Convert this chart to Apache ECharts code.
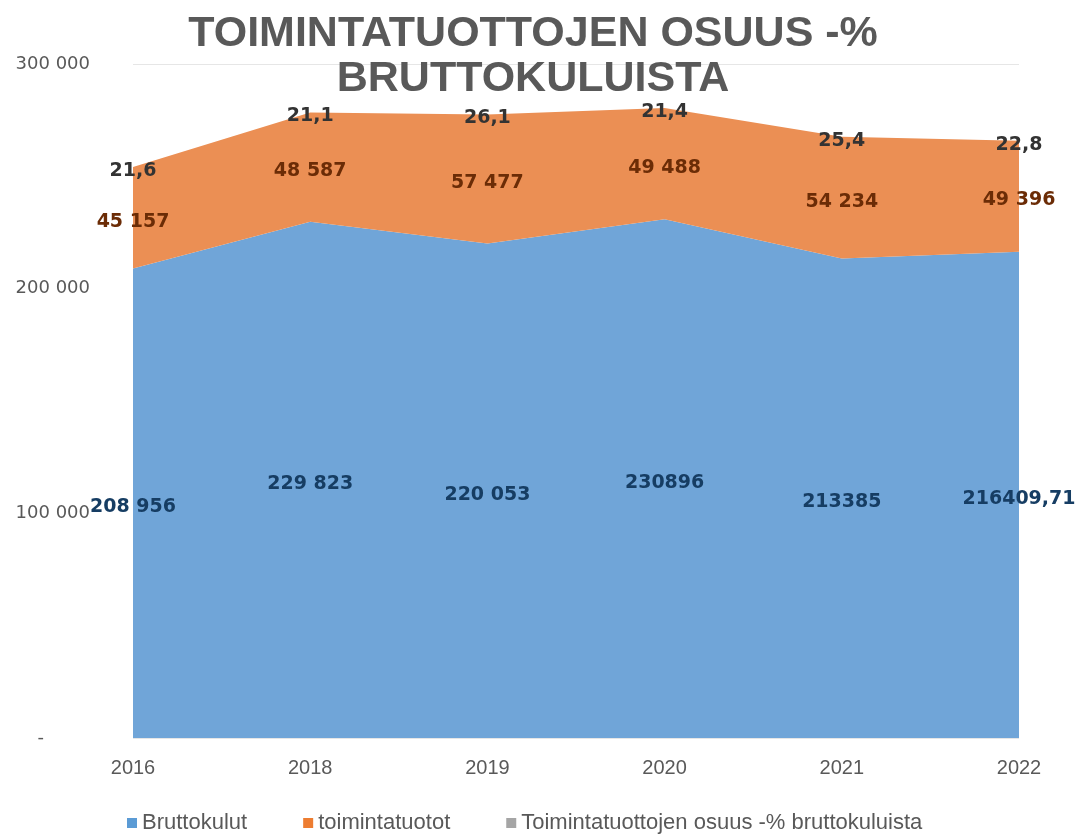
<!DOCTYPE html>
<html lang="fi">
<head>
<meta charset="UTF-8">
<title>Toimintatuottojen osuus</title>
<script src="https://cdn.jsdelivr.net/npm/echarts@6/dist/echarts.min.js"></script>
<style>
  html, body { margin: 0; padding: 0; background: #fff; }
  #chart { width: 1078px; height: 836px; }
</style>
</head>
<body>
<div id="chart"></div>
<script>
// data
const years = ['2016', '2018', '2019', '2020', '2021', '2022'];
const bruttokulut = [208956, 229823, 220053, 230896, 213385, 216409.71];
const bruttoLabels = ['208 956', '229 823', '220 053', '230896', '213385', '216409,71'];
const toimintatuotot = [45157, 48587, 57477, 49488, 54234, 49396];
const osuus = [21.6, 21.1, 26.1, 21.4, 25.4, 22.8];
const yTicks = [0, 100000, 200000, 300000];

const names = ['Bruttokulut', 'toimintatuotot', 'Toimintatuottojen osuus -% bruttokuluista'];
const colors = ['#70a5d8', '#eb8f54', '#a5a5a5'];
const legendColors = ['#5b9bd5', '#ed7d31', '#a5a5a5'];

function fmtSpace(v) {
  return String(Math.round(v)).replace(/\B(?=(\d{3})+(?!\d))/g, ' ');
}

// label anchors: centre of each band, like Excel places area labels
const midBlue = bruttokulut.map(v => v / 2);
const midOrange = bruttokulut.map((v, i) => v + toimintatuotot[i] / 2);
const topGray = bruttokulut.map((v, i) => v + toimintatuotot[i] + osuus[i]);

function areaSeries(idx, data) {
  return {
    name: names[idx],
    type: 'line',
    stack: 'total',
    data: data,
    symbol: 'none',
    lineStyle: { width: 0 },
    areaStyle: { color: colors[idx], opacity: 1 },
    itemStyle: { color: legendColors[idx] },
    silent: true
  };
}

function labelSeries(data, color, fmt) {
  return {
    type: 'scatter',
    data: data,
    symbolSize: 0,
    silent: true,
    z: 5,
    label: {
      show: true,
      position: 'inside',
      offset: [0, 4],
      color: color,
      opacity: 1,
      textBorderWidth: 0,
      fontFamily: 'DejaVu Sans',
      fontWeight: 'bold',
      fontSize: 19,
      formatter: fmt
    }
  };
}

const chart = echarts.init(document.getElementById('chart'));

chart.setOption({
  animation: false,
  title: {
    text: 'TOIMINTATUOTTOJEN OSUUS -%\nBRUTTOKULUISTA',
    left: 528,
    textAlign: 'center',
    top: 7,
    textStyle: {
      fontFamily: 'Liberation Sans',
      fontWeight: 'bold',
      fontSize: 43,
      lineHeight: 45,
      color: '#595959'
    }
  },
  legend: {
    top: 807,
    left: 122,
    itemWidth: 10,
    itemHeight: 10,
    itemGap: 56,
    icon: 'rect',
    data: names,
    textStyle: { fontFamily: 'Liberation Sans', fontSize: 22, color: '#595959' }
  },
  grid: { left: 133, right: 59, top: 64, bottom: 98 },
  xAxis: {
    type: 'category',
    data: years,
    boundaryGap: false,
    axisLine: { show: false },
    axisTick: { show: false },
    axisLabel: { margin: 20, fontFamily: 'Liberation Sans', fontSize: 20, color: '#595959' }
  },
  yAxis: {
    type: 'value',
    min: yTicks[0],
    max: yTicks[yTicks.length - 1],
    interval: 100000,
    axisLine: { show: false },
    axisTick: { show: false },
    splitLine: { lineStyle: { color: '#e6e6e6' } },
    axisLabel: {
      margin: 43,
      fontFamily: 'DejaVu Sans',
      fontSize: 18,
      color: '#595959',
      formatter: v => v === 0 ? '{d|-}' : fmtSpace(v),
      rich: { d: { padding: [0, 46, 0, 0], fontSize: 18, color: '#595959' } }
    }
  },
  series: [
    areaSeries(0, bruttokulut),
    areaSeries(1, toimintatuotot),
    areaSeries(2, osuus),
    labelSeries(midBlue, '#163d63', p => bruttoLabels[p.dataIndex]),
    labelSeries(midOrange, '#6b2c06', p => fmtSpace(toimintatuotot[p.dataIndex])),
    labelSeries(topGray, '#333333', p => String(osuus[p.dataIndex]).replace('.', ','))
  ]
});
</script>
</body>
</html>
